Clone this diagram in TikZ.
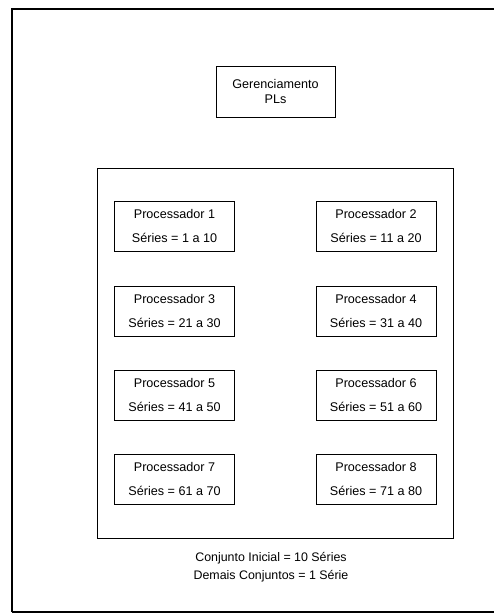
\documentclass[tikz,border=0pt]{standalone}
\usepackage{fontspec}
\setmainfont{Liberation Sans}
\tikzset{every path/.style={semithick}}
\tikzset{
  procbox/.style={draw, line width=0.9pt, minimum width=120pt, minimum height=50pt, inner sep=0pt, align=center, font=\fontsize{12.6}{24}\selectfont},
  mgrbox/.style={draw, line width=0.9pt, minimum width=119pt, minimum height=51pt, inner sep=0pt, align=center, font=\fontsize{12.6}{15}\selectfont},
  note/.style={align=center, font=\fontsize{12.4}{18}\selectfont}
}

\begin{document}
\begin{tikzpicture}[x=1pt, y=-1pt]
    \useasboundingbox (0,0) rectangle (494,613);

    % outer frame (cut off on the right)
    \draw[line width=2pt] (12,612) -- (12,9) -- (510,9);
    \draw[line width=1.2pt] (12,612) -- (510,612);

    \node[mgrbox] (mgr) at (275.5,91.5) {Gerenciamento\\PLs};

    \draw[line width=0.9pt] (97,168) rectangle (453,538);

    \node[procbox] (p1) at (174.5,226) {Processador 1\\Séries = 1 a 10};
    \node[procbox] (p2) at (376,226) {Processador 2\\Séries = 11 a 20};
    \node[procbox] (p3) at (174.5,311) {Processador 3\\Séries = 21 a 30};
    \node[procbox] (p4) at (376,311) {Processador 4\\Séries = 31 a 40};
    \node[procbox] (p5) at (174.5,395) {Processador 5\\Séries = 41 a 50};
    \node[procbox] (p6) at (376,395) {Processador 6\\Séries = 51 a 60};
    \node[procbox] (p7) at (174.5,479) {Processador 7\\Séries = 61 a 70};
    \node[procbox] (p8) at (376,479) {Processador 8\\Séries = 71 a 80};

    \node[note] (sets) at (271,567) {Conjunto Inicial = 10 Séries\\Demais Conjuntos = 1 Série};
\end{tikzpicture}
\end{document}
